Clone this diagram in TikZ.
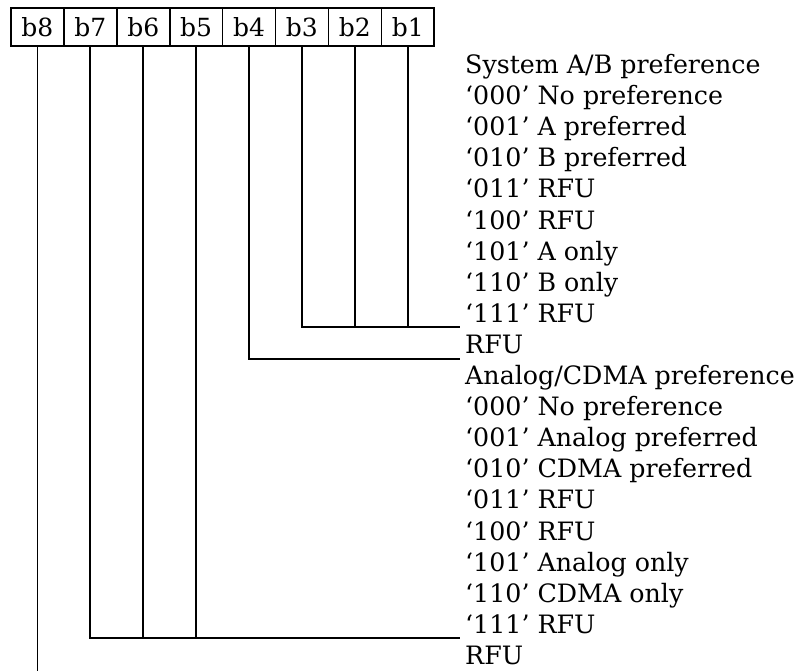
\documentclass[tikz,border=0pt]{standalone}
\usepackage{fontspec}
\setmainfont{DejaVu Serif}
\begin{document}
\begin{tikzpicture}[x=1pt,y=-1pt,
  bitbox/.style={draw,line width=1.6pt,minimum width=52.9pt,minimum height=38pt,inner sep=0pt,font=\fontsize{25}{29}\selectfont},
  lbl/.style={anchor=base west,inner sep=0pt,font=\fontsize{25.3}{30}\selectfont},
  wire/.style={line width=1.9pt}]
\useasboundingbox (0,0) rectangle (801,670);
% bit boxes
\foreach \n [count=\i from 0] in {8,7,6,5,4,3,2,1}{
  \node[bitbox] (b\n) at ({11+52.9*(\i+0.5)},27) {b\n};
}
% labels
\def\rowy#1{(465,{73.5+31.1*#1})}
\node[lbl] (t0) at \rowy{0} {System A/B preference};
\node[lbl] (t1) at \rowy{1} {‘000’ No preference};
\node[lbl] (t2) at \rowy{2} {‘001’ A preferred};
\node[lbl] (t3) at \rowy{3} {‘010’ B preferred};
\node[lbl] (t4) at \rowy{4} {‘011’ RFU};
\node[lbl] (t5) at \rowy{5} {‘100’ RFU};
\node[lbl] (t6) at \rowy{6} {‘101’ A only};
\node[lbl] (t7) at \rowy{7} {‘110’ B only};
\node[lbl] (t8) at \rowy{8} {‘111’ RFU};
\node[lbl] (t9) at \rowy{9} {RFU};
\node[lbl] (t10) at \rowy{10} {Analog/CDMA preference};
\node[lbl] (t11) at \rowy{11} {‘000’ No preference};
\node[lbl] (t12) at \rowy{12} {‘001’ Analog preferred};
\node[lbl] (t13) at \rowy{13} {‘010’ CDMA preferred};
\node[lbl] (t14) at \rowy{14} {‘011’ RFU};
\node[lbl] (t15) at \rowy{15} {‘100’ RFU};
\node[lbl] (t16) at \rowy{16} {‘101’ Analog only};
\node[lbl] (t17) at \rowy{17} {‘110’ CDMA only};
\node[lbl] (t18) at \rowy{18} {‘111’ RFU};
\node[lbl] (t19) at \rowy{19} {RFU};
% end coordinates
\coordinate (e1) at (460,327);
\coordinate (e2) at (460,359);
\coordinate (e3) at (460,638);
\coordinate (bot) at (0,672);
% connectors
\draw[wire] (b3.south) |- (e1);
\draw[wire] (b2.south) -- (b2.south |- e1);
\draw[wire] (b1.south) -- (b1.south |- e1);
\draw[wire] (b4.south) |- (e2);
\draw[wire] (b7.south) |- (e3);
\draw[wire] (b6.south) -- (b6.south |- e3);
\draw[wire] (b5.south) -- (b5.south |- e3);
\draw[wire] (b8.south) -- (b8.south |- bot);
\end{tikzpicture}
\end{document}
